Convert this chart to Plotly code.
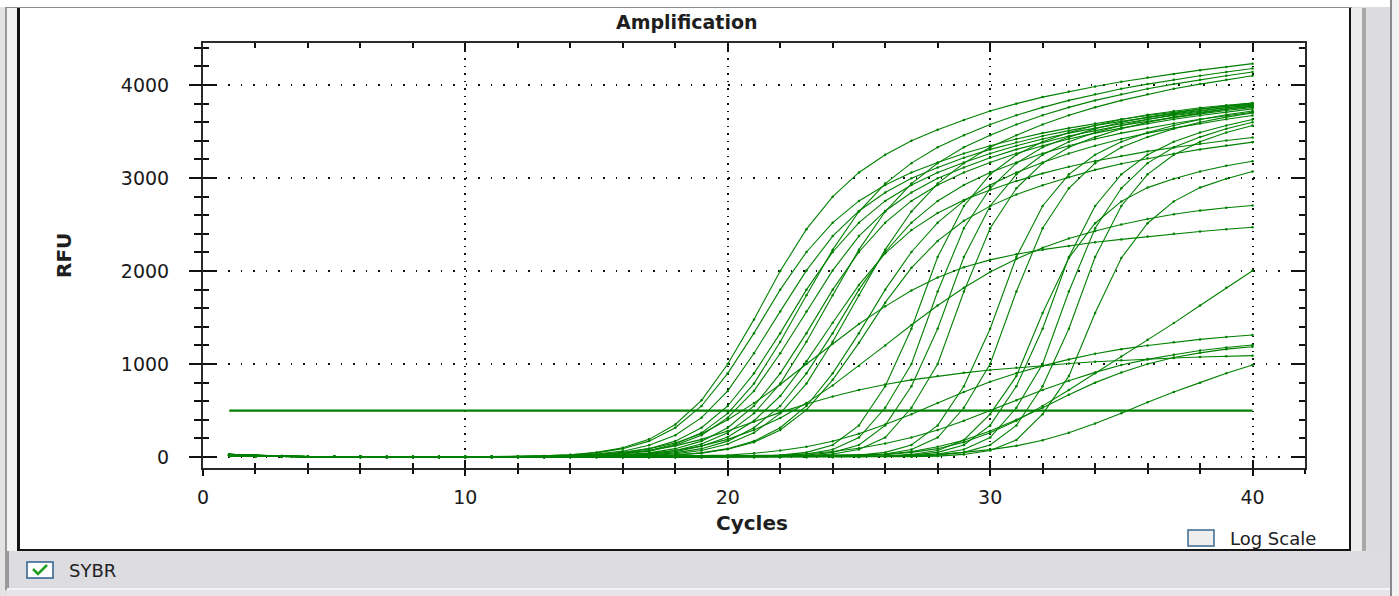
import plotly.graph_objects as go

# ---------------- data ----------------
CYCLES = list(range(1, 41))
THRESHOLD = 500
X_TICKS = [0, 10, 20, 30, 40]
Y_TICKS = [0, 1000, 2000, 3000, 4000]
Y_TICK_TEXT = ["0", "1000", "2000", "3000", "4000"]

WELL_A1 = [24,14,8,5,3,2, 0,0,1,2,3,6,12,25,50,100, 190,350,610,1000,1480,2000,2450,2800,3060,3250, 3400,3520,3625,3720,3800,3870,3930,3985,4035,4080, 4120,4160,4195,4230]
WELL_A2 = [18,10,6,4,2,1, 0,0,0,1,1,2,4,8,17,35, 70,140,260,470,790,1240,1740,2230,2640,2940, 3160,3330,3460,3575,3675,3760,3835,3900,3960,4010, 4058,4100,4140,4178]
WELL_A3 = [28,17,9,5,3,2, 0,0,0,0,1,1,2,4,8,17, 35,70,140,260,470,790,1240,1740,2230,2640, 2940,3160,3330,3460,3575,3675,3760,3835,3900,3960, 4010,4058,4100,4140]
WELL_A4 = [14,8,5,3,2,1, 0,0,0,0,0,1,1,2,4,8, 17,35,70,140,260,470,790,1240,1740,2230, 2640,2940,3160,3330,3460,3575,3675,3760,3835,3900, 3960,4010,4058,4100]
WELL_B1 = [20,12,7,4,2,1, 0,0,1,2,3,5,11,23,45,90, 171,315,549,900,1332,1800,2205,2520,2754,2925, 3060,3168,3263,3348,3420,3483,3537,3587,3632,3672, 3708,3744,3776,3807]
WELL_B2 = [26,15,8,5,3,2, 0,0,1,1,2,4,7,15,32,63, 126,234,423,711,1116,1566,2007,2376,2646,2844, 2997,3114,3218,3308,3384,3452,3510,3564,3609,3652, 3690,3726,3760,3791]
WELL_B3 = [16,9,5,3,2,1, 0,0,0,1,2,3,5,11,23,45, 90,171,315,549,900,1332,1800,2205,2520,2754, 2925,3060,3168,3263,3348,3420,3483,3537,3587,3632, 3672,3708,3744,3776]
WELL_B4 = [22,13,7,4,3,1, 0,0,0,1,1,2,4,7,15,32, 63,126,234,423,711,1116,1566,2007,2376,2646, 2844,2997,3114,3218,3308,3384,3452,3510,3564,3609, 3652,3690,3726,3760]
WELL_B5 = [30,18,10,6,3,2, 0,0,0,0,1,2,3,5,11,23, 45,90,171,315,549,900,1332,1800,2205,2520, 2754,2925,3060,3168,3263,3348,3420,3483,3537,3587, 3632,3672,3708,3744]
WELL_B6 = [12,7,4,3,2,1, 0,0,0,0,0,1,2,3,5,11, 23,45,90,171,315,549,900,1332,1800,2205, 2520,2754,2925,3060,3168,3263,3348,3420,3483,3537, 3587,3632,3672,3708]
WELL_B7 = [24,14,8,5,3,2, 0,0,0,0,0,0,1,2,3,5, 11,23,45,90,171,315,549,900,1332,1800, 2205,2520,2754,2925,3060,3168,3263,3348,3420,3483, 3537,3587,3632,3672]
WELL_C1 = [18,10,6,4,2,1, 0,0,0,0,1,1,2,3,7,14, 29,58,116,216,390,656,1029,1444,1851,2191, 2440,2623,2764,2872,2967,3050,3121,3183,3237,3287, 3328,3368,3403,3436]
WELL_C2 = [28,17,9,5,3,2, 0,0,0,0,0,0,1,2,2,5, 10,21,42,83,158,291,506,830,1228,1660, 2034,2324,2540,2698,2822,2922,3009,3088,3154,3212, 3262,3308,3349,3386]
WELL_S1 = [14,8,5,3,2,1, 0,0,0,0,0,0,0,0,0,0, 0,0,1,3,8,20,50,130,340,760, 1380,2150,2700,3040,3250,3390,3490,3565,3630,3680, 3720,3755,3782,3805]
WELL_S2 = [20,12,7,4,2,1, 0,0,0,0,0,0,0,0,0,0, 0,0,0,2,5,12,32,80,210,530, 1000,1780,2460,2890,3160,3330,3440,3530,3600,3655, 3700,3740,3770,3795]
WELL_S3 = [26,15,8,5,3,2, 0,0,0,0,0,0,0,0,0,0, 0,0,0,1,3,8,20,50,130,340, 760,1380,2150,2700,3040,3250,3390,3490,3565,3630, 3680,3720,3755,3782]
WELL_S4 = [16,9,5,3,2,1, 0,0,0,0,0,0,0,0,0,0, 0,0,0,0,2,5,12,32,80,210, 530,1000,1780,2460,2890,3160,3330,3440,3530,3600, 3655,3700,3740,3770]
WELL_S5 = [22,13,7,4,3,1, 0,0,0,0,0,0,0,0,0,0, 0,0,0,0,0,1,3,8,20,50, 130,340,760,1380,2150,2700,3040,3250,3390,3490, 3565,3630,3680,3720]
WELL_S6 = [30,18,10,6,3,2, 0,0,0,0,0,0,0,0,0,0, 0,0,0,0,0,0,2,5,12,32, 80,210,530,1000,1780,2460,2890,3160,3330,3440, 3530,3600,3655,3700]
WELL_S7 = [12,7,4,3,2,1, 0,0,0,0,0,0,0,0,0,0, 0,0,0,0,0,0,0,1,3,8, 20,50,130,340,760,1380,2150,2700,3040,3250, 3390,3490,3565,3630]
WELL_S8 = [24,14,8,5,3,2, 0,0,0,0,0,0,0,0,0,0, 0,0,0,0,0,0,0,0,2,5, 12,32,80,210,530,1000,1780,2460,2890,3160, 3330,3440,3530,3600]
WELL_S9 = [18,10,6,4,2,1, 0,0,0,0,0,0,0,0,0,0, 0,0,0,0,0,0,0,0,1,3, 8,20,50,130,340,760,1380,2150,2700,3040, 3250,3390,3490,3565]
WELL_T1 = [28,17,9,5,3,2, 0,0,0,0,0,0,0,0,0,0, 0,0,0,0,0,0,0,0,0,2, 4,10,28,70,183,461,870,1549,2140,2514, 2749,2897,2993,3071]
WELL_T2 = [14,8,5,3,2,1, 0,0,0,0,0,0,0,0,0,0, 0,0,0,0,0,0,0,2,4,10, 28,70,183,461,870,1549,2140,2514,2749,2897, 2993,3071,3132,3180]
WELL_F1 = [20,12,7,4,2,1, 0,0,1,2,4,6,8,15,28,50, 90,150,250,400,580,780,1000,1220,1430,1620, 1790,1930,2040,2120,2180,2230,2270,2310,2340,2370, 2400,2425,2450,2470]
WELL_F2 = [26,15,8,5,3,2, 0,0,0,1,2,3,5,8,12,20, 40,70,120,190,290,420,580,770,980,1200, 1420,1630,1820,1990,2130,2250,2350,2430,2500,2560, 2610,2650,2680,2705]
WELL_L1 = [16,9,5,3,2,1, 0,0,1,1,2,3,5,10,20,40, 70,120,190,280,380,480,570,650,720,780, 830,870,905,935,960,985,1005,1025,1040,1055, 1065,1075,1083,1090]
WELL_L2 = [22,13,7,4,3,1, 0,0,0,1,1,2,2,3,4,6, 8,11,15,20,40,70,110,170,250,350, 460,580,700,810,900,980,1050,1110,1160,1200, 1235,1265,1290,1312]
WELL_L3 = [30,18,10,6,3,2, 0,0,0,0,1,1,2,2,3,4, 6,8,10,12,15,20,35,60,95,145, 210,290,390,500,610,720,820,910,990,1050, 1100,1145,1178,1204]
WELL_L4 = [12,7,4,3,2,1, 0,0,0,0,0,1,1,2,2,3, 4,5,6,8,10,12,15,18,22,30, 60,110,180,280,400,530,670,800,910,1000, 1070,1120,1160,1186]
WELL_L5 = [24,14,8,5,3,2, 0,0,0,0,0,0,1,1,2,2, 3,3,4,5,6,7,8,10,12,13, 15,30,50,80,120,180,260,360,470,590, 700,800,900,989]
WELL_L6 = [18,10,6,4,2,1, 0,0,0,0,0,0,1,1,2,2, 3,4,5,6,8,10,12,15,18,25, 50,90,160,260,390,550,720,900,1080,1260, 1440,1630,1820,2003]

CURVES = [WELL_A1, WELL_A2, WELL_A3, WELL_A4, WELL_B1, WELL_B2, WELL_B3, WELL_B4,
          WELL_B5, WELL_B6, WELL_B7, WELL_C1, WELL_C2, WELL_S1, WELL_S2, WELL_S3,
          WELL_S4, WELL_S5, WELL_S6, WELL_S7, WELL_S8, WELL_S9, WELL_T1, WELL_T2,
          WELL_F1, WELL_F2, WELL_L1, WELL_L2, WELL_L3, WELL_L4, WELL_L5, WELL_L6]

# ---------------- layout geometry ----------------
W, H = 1399, 596
L, R, T, B = 203, 1305, 43, 468          # plot area in pixels
PW, PH = R - L, B - T


def px(x):
    return (x - L) / PW


def py(y):
    return (B - y) / PH


GREEN = "#008000"
FONT = "DejaVu Sans"

fig = go.Figure()
for ys in CURVES:
    fig.add_trace(go.Scatter(
        x=CYCLES, y=ys, mode="lines+markers",
        line=dict(color=GREEN, width=1.1),
        marker=dict(color=GREEN, size=2.5),
        hoverinfo="skip", showlegend=False))

fig.add_trace(go.Scatter(
    x=[CYCLES[0], CYCLES[-1]], y=[THRESHOLD, THRESHOLD], mode="lines",
    line=dict(color=GREEN, width=2.2), xaxis="x2", yaxis="y2",
    hoverinfo="skip", showlegend=False))

XR = [0, 42]
YR = [-118, 4452]


def rect(x0, y0, x1, y1, fill, line=None, lw=0):
    return dict(type="rect", xref="paper", yref="paper",
                x0=px(x0), x1=px(x1), y0=py(y1), y1=py(y0),
                fillcolor=fill, line=dict(color=line or fill, width=lw),
                layer="below")


shapes = [
    rect(0, 0, W, 7, "#ffffff"),
    rect(0, 7, 5, 596, "#e3e3e3"),
    rect(5, 7, 7, 590, "#9a9a9a"),
    rect(7, 7, 17, 551, "#f3f3f3"),
    rect(5, 7, 1352, 8, "#8c8c8c"),
    rect(20, 8, 1349, 549, "#ffffff"),
    rect(17, 8, 20, 551, "#141414"),
    rect(1349, 8, 1351, 551, "#141414"),
    rect(17, 549, 1351, 551, "#141414"),
    rect(1351, 8, 1362, 551, "#ececec"),
    rect(1362, 8, 1366, 551, "#a8a8a8"),
    rect(1366, 8, 1390, 551, "#dcdce0"),
    rect(1390, 0, 1392, 596, "#8a8a8a"),
    rect(1392, 0, 1399, 596, "#f2f2f2"),
    rect(7, 551, 1390, 588, "#dcdce1"),
    rect(7, 551, 9, 588, "#9a9a9a"),
    rect(7, 588, 1390, 590, "#f4f4f4"),
    rect(7, 590, 1390, 596, "#e6e5ea"),
    # Log Scale checkbox
    rect(1188, 530, 1214, 546, "#eeeeee", "#3a6891", 1.5),
    # SYBR checkbox
    rect(27, 562, 53, 578, "#ffffff", "#2d5d8f", 1.5),
]
shapes.append(dict(
    type="path", xref="paper", yref="paper", layer="above",
    path=f"M {px(33)},{py(569)} L {px(38)},{py(574)} L {px(47)},{py(565)}",
    line=dict(color="#1f9e1f", width=2.5)))

ann = [
    dict(text="<b>Amplification</b>", x=px(686), y=py(22), xref="paper", yref="paper",
         showarrow=False, xanchor="center", yanchor="middle",
         font=dict(family=FONT, size=19, color="#1e1e1e")),
    dict(text="<b>Cycles</b>", x=px(752), y=py(523), xref="paper", yref="paper",
         showarrow=False, xanchor="center", yanchor="middle",
         font=dict(family=FONT, size=20, color="#1e1e1e")),
    dict(text="<b>RFU</b>", x=px(64), y=py(256), xref="paper", yref="paper",
         showarrow=False, xanchor="center", yanchor="middle", textangle=-90,
         font=dict(family=FONT, size=20, color="#1e1e1e")),
    dict(text="Log Scale", x=px(1228), y=py(538), xref="paper", yref="paper",
         showarrow=False, xanchor="left", yanchor="middle",
         font=dict(family=FONT, size=18, color="#222222")),
    dict(text="SYBR", x=px(67), y=py(570), xref="paper", yref="paper",
         showarrow=False, xanchor="left", yanchor="middle",
         font=dict(family=FONT, size=18, color="#222222")),
]

fig.update_layout(
    width=W, height=H, autosize=False,
    margin=dict(l=L, r=W - R, t=T, b=H - B, pad=0),
    paper_bgcolor="#dddce1", plot_bgcolor="#ffffff",
    showlegend=False, shapes=shapes, annotations=ann,
    xaxis=dict(
        range=XR, tickmode="array", tickvals=X_TICKS, ticktext=[str(v) for v in X_TICKS],
        ticks="inside", ticklen=8, tickwidth=1.5, tickcolor="#111111",
        showline=True, linecolor="#2a2a2a", linewidth=2, mirror="ticks",
        showgrid=True, gridcolor="#111111", gridwidth=1.5, griddash="1.5px,6px",
        zeroline=False, ticklabelstandoff=11,
        tickfont=dict(family=FONT, size=19, color="#1a1a1a"),
        minor=dict(dtick=2, tick0=0, ticks="inside", ticklen=5, tickwidth=1.5,
                   tickcolor="#111111", showgrid=False),
    ),
    yaxis=dict(
        range=YR, tickmode="array", tickvals=Y_TICKS, ticktext=Y_TICK_TEXT,
        ticks="inside", ticklen=14, tickwidth=1.5, tickcolor="#111111",
        showline=True, linecolor="#2a2a2a", linewidth=2, mirror="ticks",
        showgrid=True, gridcolor="#111111", gridwidth=1.5, griddash="1.5px,11px",
        zeroline=False, ticklabelstandoff=28,
        tickfont=dict(family=FONT, size=19, color="#1a1a1a"),
        minor=dict(dtick=200, tick0=0, ticks="inside", ticklen=6, tickwidth=1.5,
                   tickcolor="#111111", showgrid=False),
    ),
    xaxis2=dict(
        range=XR, overlaying="x", anchor="y2", side="bottom",
        tickmode="array", tickvals=X_TICKS, ticks="outside", ticklen=7, tickwidth=1.5,
        tickcolor="#111111", showticklabels=False, showgrid=False, showline=False,
        zeroline=False,
        minor=dict(dtick=2, tick0=0, ticks="outside", ticklen=5, tickwidth=1.5,
                   tickcolor="#111111", showgrid=False),
    ),
    yaxis2=dict(
        range=YR, overlaying="y", anchor="x2", side="left",
        tickmode="array", tickvals=Y_TICKS, ticks="outside", ticklen=13, tickwidth=1.5,
        tickcolor="#111111", showticklabels=False, showgrid=False, showline=False,
        zeroline=False,
        minor=dict(dtick=200, tick0=0, ticks="outside", ticklen=8, tickwidth=1.5,
                   tickcolor="#111111", showgrid=False),
    ),
)

fig.write_html("out.html")
